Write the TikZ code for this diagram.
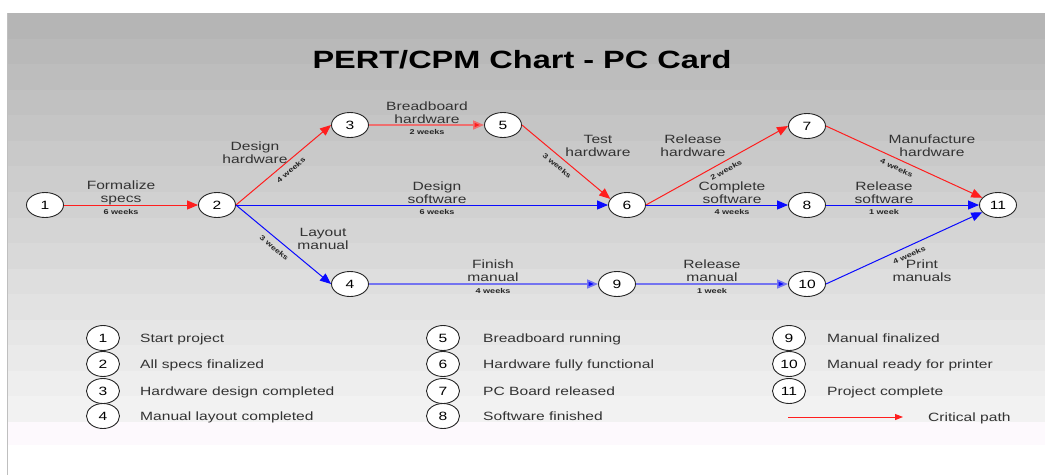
\documentclass[tikz,border=0pt]{standalone}
\usepackage{fontspec}
\setmainfont{Liberation Sans}[FakeStretch=1.3]
\usetikzlibrary{shapes.geometric,arrows.meta}

\definecolor{crit}{RGB}{255,30,30}
\definecolor{noncrit}{RGB}{10,10,255}
\definecolor{critsoft}{RGB}{238,110,110}
\definecolor{noncritsoft}{RGB}{115,115,240}
\definecolor{labelgray}{RGB}{50,50,50}
\definecolor{paper}{RGB}{253,249,253}

\tikzset{
  event/.style={ellipse, draw=black!85, line width=0.9pt, fill=white,
    minimum width=37pt, minimum height=25pt, inner sep=0pt,
    font=\fontsize{12}{14}\selectfont},
  keyevent/.style={event, minimum width=33pt},
  task/.style={line width=1pt, -{Triangle[length=11pt,width=9pt]}},
  critical/.style={task, draw=crit},
  criticalsoft/.style={task, draw=critsoft, line width=1.6pt,
    -{Triangle[length=11pt,width=9pt,fill=crit]}},
  normal/.style={task, draw=noncrit},
  normalsoft/.style={task, draw=noncritsoft, line width=1.6pt,
    -{Triangle[length=11pt,width=9pt,fill=noncrit]}},
  activity/.style={font=\fontsize{12}{13.5}\selectfont, text=labelgray,
    align=center, anchor=north, inner sep=0pt},
  dur/.style={font=\fontsize{7}{8}\selectfont\bfseries, text=black!85,
    inner sep=0pt, anchor=base},
  slopedur/.style={font=\fontsize{7}{8}\selectfont\bfseries, text=black!85,
    sloped, below, inner sep=5.5pt},
  keytext/.style={font=\fontsize{12}{14}\selectfont, text=labelgray,
    anchor=base west, inner sep=0pt},
}

% two-line activity caption; #3 is the baseline of the first line
\newcommand\actcaption[4]{\node[activity] (#1) at (#2,#3-9) {\rule{0pt}{9pt}#4};}

\begin{document}
\begin{tikzpicture}[x=1pt,y=-1pt]
\useasboundingbox (0,0) rectangle (1045,475);

% banded background
\foreach \i in {0,...,15}{
  \pgfmathtruncatemacro\g{181+\i*4.1}
  \definecolor{bandc}{RGB}{\g,\g,\g}
  \fill[bandc] (8,{13+\i*25.5625}) rectangle (1045,{13+(\i+1)*25.5625+0.6});
}
\fill[paper] (8,422) rectangle (1045,445);
\draw[black!25, line width=1.5pt] (7.5,13) -- (7.5,475);

% title
\node[font=\fontsize{25}{30}\selectfont\bfseries, anchor=base] (title) at (522,68) {PERT/CPM Chart - PC Card};

% events
\node[event] (e1)  at (45,205)  {1};
\node[event] (e2)  at (217,205) {2};
\node[event] (e3)  at (350,125) {3};
\node[event] (e4)  at (350,284) {4};
\node[event] (e5)  at (503,125) {5};
\node[event] (e6)  at (627,205) {6};
\node[event] (e7)  at (807,126) {7};
\node[event] (e8)  at (807,205) {8};
\node[event] (e9)  at (617,284) {9};
\node[event] (e10) at (807,284) {10};
\node[event] (e11) at (998,205) {11};

% activities
\draw[critical] (e1.east) -- (e2.west);
\draw[critical] (e2.east) -- (e3.west) node[slopedur, pos=0.52] {4 weeks};
\draw[normal] (e2.east) -- (e4.west) node[slopedur, pos=0.46] {3 weeks};
\draw[normal] (e2.east) -- (e6.west);
\draw[criticalsoft] (e3.east) -- (e5.west);
\draw[critical] (e5.east) -- (e6.160) node[slopedur, pos=0.46] {3 weeks};
\draw[critical] (e6.east) -- (e7.west) node[slopedur, pos=0.535] {2 weeks};
\draw[normal] (e6.east) -- (e8.west);
\draw[critical] (e7.east) -- (e11) node[slopedur, pos=0.475] {4 weeks};
\draw[normal] (e8.east) -- (e11.west);
\draw[normalsoft] (e4.east) -- (e9.west);
\draw[normalsoft] (e9.east) -- (e10.west);
\draw[normal] (e10.east) -- (e11) node[slopedur, pos=0.51] {4 weeks};

% activity captions
\actcaption{c12}{121}{189}{Formalize\\specs}
\actcaption{c23}{255}{150}{Design\\hardware}
\actcaption{c24}{323}{236}{Layout\\manual}
\actcaption{c26}{437}{190}{Design\\software}
\actcaption{c35}{427}{110}{Breadboard\\hardware}
\actcaption{c56}{598}{143}{Test\\hardware}
\actcaption{c67}{693}{143}{Release\\hardware}
\actcaption{c68}{732}{190}{Complete\\software}
\actcaption{c711}{932}{143}{Manufacture\\hardware}
\actcaption{c811}{884}{190}{Release\\software}
\actcaption{c1011}{922}{268}{Print\\manuals}
\actcaption{c49}{493}{268}{Finish\\manual}
\actcaption{c910}{712}{268}{Release\\manual}

% durations on horizontal activities
\node[dur] (d12)  at (121,214.5) {6 weeks};
\node[dur] (d26)  at (437,214.5) {6 weeks};
\node[dur] (d35)  at (427,134.5) {2 weeks};
\node[dur] (d68)  at (732,214.5) {4 weeks};
\node[dur] (d811) at (884,214.5) {1 week};
\node[dur] (d49)  at (493,293.5) {4 weeks};
\node[dur] (d910) at (712,293.5) {1 week};

% legend
\node[keyevent] (k1) at (103,338) {1};
\node[keyevent] (k2) at (103,364) {2};
\node[keyevent] (k3) at (103,391) {3};
\node[keyevent] (k4) at (103,416) {4};
\node[keytext] (t1) at (140,342.3) {Start project};
\node[keytext] (t2) at (140,368.3) {All specs finalized};
\node[keytext] (t3) at (140,395.3) {Hardware design completed};
\node[keytext] (t4) at (140,420.3) {Manual layout completed};

\node[keyevent] (k5) at (443,338) {5};
\node[keyevent] (k6) at (443,364) {6};
\node[keyevent] (k7) at (443,391) {7};
\node[keyevent] (k8) at (443,416) {8};
\node[keytext] (t5) at (483,342.3) {Breadboard running};
\node[keytext] (t6) at (483,368.3) {Hardware fully functional};
\node[keytext] (t7) at (483,395.3) {PC Board released};
\node[keytext] (t8) at (483,420.3) {Software finished};

\node[keyevent] (k9)  at (789,338) {9};
\node[keyevent] (k10) at (789,364) {10};
\node[keyevent] (k11) at (789,391) {11};
\node[keytext] (t9)  at (827,342.3) {Manual finalized};
\node[keytext] (t10) at (827,368.3) {Manual ready for printer};
\node[keytext] (t11) at (827,395.3) {Project complete};

\coordinate (cpA) at (788,417);
\coordinate (cpB) at (903,417);
\draw[draw=crit, line width=1pt, -{Triangle[length=8pt,width=6pt]}] (cpA) -- (cpB);
\node[keytext] (tcp) at (928,421.3) {Critical path};
\end{tikzpicture}
\end{document}
